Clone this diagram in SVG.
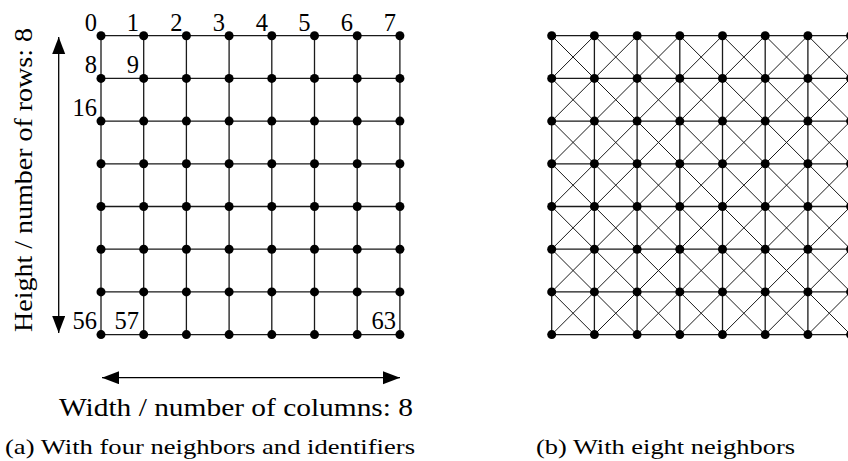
<svg xmlns="http://www.w3.org/2000/svg" width="848" height="461" viewBox="0 0 848 461">
<style>
.g{stroke:#1a1a1a;stroke-width:1.3;fill:none}
.d{stroke:#1a1a1a;stroke-width:1;fill:none}
.n use{fill:#000}
.t{font-family:"Liberation Serif","Times New Roman",serif;fill:#000}
.lb{font-size:24.5px;text-anchor:end}
.ax{font-size:25.5px}
.cap{font-size:22px}
.ar{stroke:#000;stroke-width:1.3;fill:none}
</style>
<defs>
<marker id="ah" markerUnits="userSpaceOnUse" markerWidth="18" markerHeight="14" refX="17" refY="6.5" orient="auto-start-reverse">
<path d="M0,0 L17,6.5 L0,13 z" fill="#000"/>
</marker>
<circle id="dot" r="4.5"/>
</defs>
<rect width="848" height="461" fill="#fff"/>
<g id="connectors">
<path class="g" d="M101,35.7H399.9M101,78.4H399.9M101,121.1H399.9M101,163.8H399.9M101,206.5H399.9M101,249.2H399.9M101,291.9H399.9M101,334.6H399.9M101,35.7V334.6M143.7,35.7V334.6M186.4,35.7V334.6M229.1,35.7V334.6M271.8,35.7V334.6M314.5,35.7V334.6M357.2,35.7V334.6M399.9,35.7V334.6"/>
<path class="g" d="M551.7,35.7H850.6M551.7,78.4H850.6M551.7,121.1H850.6M551.7,163.8H850.6M551.7,206.5H850.6M551.7,249.2H850.6M551.7,291.9H850.6M551.7,334.6H850.6M551.7,35.7V334.6M594.4,35.7V334.6M637.1,35.7V334.6M679.8,35.7V334.6M722.5,35.7V334.6M765.2,35.7V334.6M807.9,35.7V334.6M850.6,35.7V334.6"/>
<path class="d" d="M551.7,35.7L850.6,334.6M594.4,35.7L850.6,291.9M637.1,35.7L850.6,249.2M679.8,35.7L850.6,206.5M722.5,35.7L850.6,163.8M765.2,35.7L850.6,121.1M807.9,35.7L850.6,78.4M551.7,78.4L807.9,334.6M551.7,121.1L765.2,334.6M551.7,163.8L722.5,334.6M551.7,206.5L679.8,334.6M551.7,249.2L637.1,334.6M551.7,291.9L594.4,334.6M551.7,334.6L850.6,35.7M594.4,334.6L850.6,78.4M637.1,334.6L850.6,121.1M679.8,334.6L850.6,163.8M722.5,334.6L850.6,206.5M765.2,334.6L850.6,249.2M807.9,334.6L850.6,291.9M551.7,78.4L594.4,35.7M551.7,121.1L637.1,35.7M551.7,163.8L679.8,35.7M551.7,206.5L722.5,35.7M551.7,249.2L765.2,35.7M551.7,291.9L807.9,35.7"/>
<line class="ar" x1="58.7" y1="37" x2="58.7" y2="333" marker-start="url(#ah)" marker-end="url(#ah)"/>
<line class="ar" x1="102" y1="377.7" x2="400" y2="377.7" marker-start="url(#ah)" marker-end="url(#ah)"/>
</g>
<g id="nodes-a" class="n">
<g id="a0"><use href="#dot" x="101" y="35.7"/></g><g id="a1"><use href="#dot" x="143.7" y="35.7"/></g><g id="a2"><use href="#dot" x="186.4" y="35.7"/></g><g id="a3"><use href="#dot" x="229.1" y="35.7"/></g><g id="a4"><use href="#dot" x="271.8" y="35.7"/></g><g id="a5"><use href="#dot" x="314.5" y="35.7"/></g><g id="a6"><use href="#dot" x="357.2" y="35.7"/></g><g id="a7"><use href="#dot" x="399.9" y="35.7"/></g>
<g id="a8"><use href="#dot" x="101" y="78.4"/></g><g id="a9"><use href="#dot" x="143.7" y="78.4"/></g><g id="a10"><use href="#dot" x="186.4" y="78.4"/></g><g id="a11"><use href="#dot" x="229.1" y="78.4"/></g><g id="a12"><use href="#dot" x="271.8" y="78.4"/></g><g id="a13"><use href="#dot" x="314.5" y="78.4"/></g><g id="a14"><use href="#dot" x="357.2" y="78.4"/></g><g id="a15"><use href="#dot" x="399.9" y="78.4"/></g>
<g id="a16"><use href="#dot" x="101" y="121.1"/></g><g id="a17"><use href="#dot" x="143.7" y="121.1"/></g><g id="a18"><use href="#dot" x="186.4" y="121.1"/></g><g id="a19"><use href="#dot" x="229.1" y="121.1"/></g><g id="a20"><use href="#dot" x="271.8" y="121.1"/></g><g id="a21"><use href="#dot" x="314.5" y="121.1"/></g><g id="a22"><use href="#dot" x="357.2" y="121.1"/></g><g id="a23"><use href="#dot" x="399.9" y="121.1"/></g>
<g id="a24"><use href="#dot" x="101" y="163.8"/></g><g id="a25"><use href="#dot" x="143.7" y="163.8"/></g><g id="a26"><use href="#dot" x="186.4" y="163.8"/></g><g id="a27"><use href="#dot" x="229.1" y="163.8"/></g><g id="a28"><use href="#dot" x="271.8" y="163.8"/></g><g id="a29"><use href="#dot" x="314.5" y="163.8"/></g><g id="a30"><use href="#dot" x="357.2" y="163.8"/></g><g id="a31"><use href="#dot" x="399.9" y="163.8"/></g>
<g id="a32"><use href="#dot" x="101" y="206.5"/></g><g id="a33"><use href="#dot" x="143.7" y="206.5"/></g><g id="a34"><use href="#dot" x="186.4" y="206.5"/></g><g id="a35"><use href="#dot" x="229.1" y="206.5"/></g><g id="a36"><use href="#dot" x="271.8" y="206.5"/></g><g id="a37"><use href="#dot" x="314.5" y="206.5"/></g><g id="a38"><use href="#dot" x="357.2" y="206.5"/></g><g id="a39"><use href="#dot" x="399.9" y="206.5"/></g>
<g id="a40"><use href="#dot" x="101" y="249.2"/></g><g id="a41"><use href="#dot" x="143.7" y="249.2"/></g><g id="a42"><use href="#dot" x="186.4" y="249.2"/></g><g id="a43"><use href="#dot" x="229.1" y="249.2"/></g><g id="a44"><use href="#dot" x="271.8" y="249.2"/></g><g id="a45"><use href="#dot" x="314.5" y="249.2"/></g><g id="a46"><use href="#dot" x="357.2" y="249.2"/></g><g id="a47"><use href="#dot" x="399.9" y="249.2"/></g>
<g id="a48"><use href="#dot" x="101" y="291.9"/></g><g id="a49"><use href="#dot" x="143.7" y="291.9"/></g><g id="a50"><use href="#dot" x="186.4" y="291.9"/></g><g id="a51"><use href="#dot" x="229.1" y="291.9"/></g><g id="a52"><use href="#dot" x="271.8" y="291.9"/></g><g id="a53"><use href="#dot" x="314.5" y="291.9"/></g><g id="a54"><use href="#dot" x="357.2" y="291.9"/></g><g id="a55"><use href="#dot" x="399.9" y="291.9"/></g>
<g id="a56"><use href="#dot" x="101" y="334.6"/></g><g id="a57"><use href="#dot" x="143.7" y="334.6"/></g><g id="a58"><use href="#dot" x="186.4" y="334.6"/></g><g id="a59"><use href="#dot" x="229.1" y="334.6"/></g><g id="a60"><use href="#dot" x="271.8" y="334.6"/></g><g id="a61"><use href="#dot" x="314.5" y="334.6"/></g><g id="a62"><use href="#dot" x="357.2" y="334.6"/></g><g id="a63"><use href="#dot" x="399.9" y="334.6"/></g>
</g>
<g id="nodes-b" class="n">
<g id="b0"><use href="#dot" x="551.7" y="35.7"/></g><g id="b1"><use href="#dot" x="594.4" y="35.7"/></g><g id="b2"><use href="#dot" x="637.1" y="35.7"/></g><g id="b3"><use href="#dot" x="679.8" y="35.7"/></g><g id="b4"><use href="#dot" x="722.5" y="35.7"/></g><g id="b5"><use href="#dot" x="765.2" y="35.7"/></g><g id="b6"><use href="#dot" x="807.9" y="35.7"/></g><g id="b7"><use href="#dot" x="850.6" y="35.7"/></g>
<g id="b8"><use href="#dot" x="551.7" y="78.4"/></g><g id="b9"><use href="#dot" x="594.4" y="78.4"/></g><g id="b10"><use href="#dot" x="637.1" y="78.4"/></g><g id="b11"><use href="#dot" x="679.8" y="78.4"/></g><g id="b12"><use href="#dot" x="722.5" y="78.4"/></g><g id="b13"><use href="#dot" x="765.2" y="78.4"/></g><g id="b14"><use href="#dot" x="807.9" y="78.4"/></g><g id="b15"><use href="#dot" x="850.6" y="78.4"/></g>
<g id="b16"><use href="#dot" x="551.7" y="121.1"/></g><g id="b17"><use href="#dot" x="594.4" y="121.1"/></g><g id="b18"><use href="#dot" x="637.1" y="121.1"/></g><g id="b19"><use href="#dot" x="679.8" y="121.1"/></g><g id="b20"><use href="#dot" x="722.5" y="121.1"/></g><g id="b21"><use href="#dot" x="765.2" y="121.1"/></g><g id="b22"><use href="#dot" x="807.9" y="121.1"/></g><g id="b23"><use href="#dot" x="850.6" y="121.1"/></g>
<g id="b24"><use href="#dot" x="551.7" y="163.8"/></g><g id="b25"><use href="#dot" x="594.4" y="163.8"/></g><g id="b26"><use href="#dot" x="637.1" y="163.8"/></g><g id="b27"><use href="#dot" x="679.8" y="163.8"/></g><g id="b28"><use href="#dot" x="722.5" y="163.8"/></g><g id="b29"><use href="#dot" x="765.2" y="163.8"/></g><g id="b30"><use href="#dot" x="807.9" y="163.8"/></g><g id="b31"><use href="#dot" x="850.6" y="163.8"/></g>
<g id="b32"><use href="#dot" x="551.7" y="206.5"/></g><g id="b33"><use href="#dot" x="594.4" y="206.5"/></g><g id="b34"><use href="#dot" x="637.1" y="206.5"/></g><g id="b35"><use href="#dot" x="679.8" y="206.5"/></g><g id="b36"><use href="#dot" x="722.5" y="206.5"/></g><g id="b37"><use href="#dot" x="765.2" y="206.5"/></g><g id="b38"><use href="#dot" x="807.9" y="206.5"/></g><g id="b39"><use href="#dot" x="850.6" y="206.5"/></g>
<g id="b40"><use href="#dot" x="551.7" y="249.2"/></g><g id="b41"><use href="#dot" x="594.4" y="249.2"/></g><g id="b42"><use href="#dot" x="637.1" y="249.2"/></g><g id="b43"><use href="#dot" x="679.8" y="249.2"/></g><g id="b44"><use href="#dot" x="722.5" y="249.2"/></g><g id="b45"><use href="#dot" x="765.2" y="249.2"/></g><g id="b46"><use href="#dot" x="807.9" y="249.2"/></g><g id="b47"><use href="#dot" x="850.6" y="249.2"/></g>
<g id="b48"><use href="#dot" x="551.7" y="291.9"/></g><g id="b49"><use href="#dot" x="594.4" y="291.9"/></g><g id="b50"><use href="#dot" x="637.1" y="291.9"/></g><g id="b51"><use href="#dot" x="679.8" y="291.9"/></g><g id="b52"><use href="#dot" x="722.5" y="291.9"/></g><g id="b53"><use href="#dot" x="765.2" y="291.9"/></g><g id="b54"><use href="#dot" x="807.9" y="291.9"/></g><g id="b55"><use href="#dot" x="850.6" y="291.9"/></g>
<g id="b56"><use href="#dot" x="551.7" y="334.6"/></g><g id="b57"><use href="#dot" x="594.4" y="334.6"/></g><g id="b58"><use href="#dot" x="637.1" y="334.6"/></g><g id="b59"><use href="#dot" x="679.8" y="334.6"/></g><g id="b60"><use href="#dot" x="722.5" y="334.6"/></g><g id="b61"><use href="#dot" x="765.2" y="334.6"/></g><g id="b62"><use href="#dot" x="807.9" y="334.6"/></g><g id="b63"><use href="#dot" x="850.6" y="334.6"/></g>
</g>
<g id="labels" class="t lb">
<text x="97" y="30.5">0</text>
<text x="139" y="30.5">1</text>
<text x="182.5" y="30.5">2</text>
<text x="225" y="30.5">3</text>
<text x="268" y="30.5">4</text>
<text x="310.5" y="30.5">5</text>
<text x="353" y="30.5">6</text>
<text x="396" y="30.5">7</text>
<text x="97" y="73">8</text>
<text x="139" y="73">9</text>
<text x="97" y="115.5">16</text>
<text x="97" y="329.3">56</text>
<text x="139" y="329.3">57</text>
<text x="396" y="329.3">63</text>
</g>
<g id="axis-labels" class="t ax">
<text x="59" y="415.7" textLength="354" lengthAdjust="spacingAndGlyphs">Width / number of columns: 8</text>
<text transform="translate(32,180) rotate(-90)" text-anchor="middle" textLength="304" lengthAdjust="spacingAndGlyphs">Height / number of rows: 8</text>
</g>
<g id="captions" class="t cap">
<text x="5" y="453.5" textLength="410" lengthAdjust="spacingAndGlyphs">(a) With four neighbors and identifiers</text>
<text x="536" y="453.5" textLength="259" lengthAdjust="spacingAndGlyphs">(b) With eight neighbors</text>
</g>
</svg>
